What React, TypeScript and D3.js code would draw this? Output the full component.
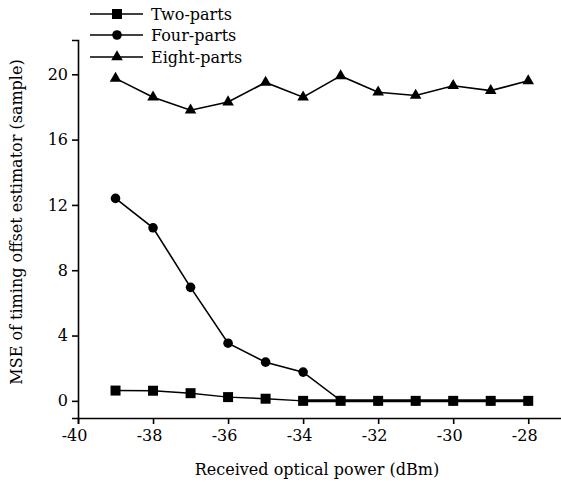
import React, { useRef, useEffect } from 'react';
import * as d3 from 'd3';

// received optical power (dBm)
const powers = [-39, -38, -37, -36, -35, -34, -33, -32, -31, -30, -29, -28];

// MSE per scheme
const twoParts = [0.63, 0.62, 0.47, 0.23, 0.13, 0, 0, 0, 0, 0, 0, 0];
const fourParts = [12.4, 10.6, 6.95, 3.53, 2.37, 1.76, 0.02, 0, 0, 0, 0, 0];
const eightParts = [19.75, 18.6, 17.8, 18.3, 19.5, 18.6, 19.9, 18.9, 18.7, 19.3, 19.0, 19.6];

const xTicks = [-40, -38, -36, -34, -32, -30, -28];
const yTicks = [0, 4, 8, 12, 16, 20];

const seriesNames = ['Two-parts', 'Four-parts', 'Eight-parts'];
const seriesValues = [twoParts, fourParts, eightParts];
const seriesMarks = [d3.symbolSquare, d3.symbolCircle, d3.symbolTriangle];
const markSizes = [100, 72, 58];

export default function App() {
  const svgRef = useRef<SVGSVGElement>(null);

  useEffect(() => {
    const W = 561;
    const H = 485;
    const font = "'DejaVu Serif', serif";
    const fs = 16;

    const svg = d3
      .select(svgRef.current)
      .attr('width', W)
      .attr('height', H)
      .style('font-family', font);
    svg.selectAll('*').remove();

    // шкалы
    const x = d3.scaleLinear().domain([-40, -27.1]).range([78, 562]);
    const y = d3.scaleLinear().domain([-1.05, 22.1]).range([418, 40]);

    // оси
    const gx = svg
      .append('g')
      .attr('transform', `translate(0,${y(-1.05)})`)
      .call(d3.axisBottom(x).tickValues(xTicks).tickSize(6).tickPadding(6).tickFormat(d3.format('d')));
    const gy = svg
      .append('g')
      .attr('transform', `translate(${x(-40)},0)`)
      .call(d3.axisLeft(y).tickValues(yTicks).tickSize(6).tickPadding(4));

    [gx, gy].forEach(g => {
      g.attr('font-family', null).attr('font-size', fs);
      g.select('.domain').attr('stroke', '#000').attr('stroke-width', 1.6);
      g.selectAll('.tick line').attr('stroke', '#000').attr('stroke-width', 1.6);
      g.selectAll('.tick text').attr('fill', '#000');
    });
    gx.selectAll('.tick text')
      .text((d: any) => String(d).replace('−', '-'))
      .attr('dx', -4);

    // подписи осей
    svg
      .append('text')
      .attr('x', 317)
      .attr('y', 475)
      .attr('text-anchor', 'middle')
      .attr('font-size', fs)
      .text('Received optical power (dBm)');

    svg
      .append('text')
      .attr('transform', `translate(22,222) rotate(-90)`)
      .attr('text-anchor', 'middle')
      .attr('font-size', fs)
      .text('MSE of timing offset estimator (sample)');

    // линии и маркеры
    const line = d3
      .line<number>()
      .x((_, i) => x(powers[i]))
      .y(d => y(d));

    seriesValues.forEach((vals, k) => {
      svg
        .append('path')
        .datum(vals)
        .attr('fill', 'none')
        .attr('stroke', '#000')
        .attr('stroke-width', k === 0 ? 1.4 : 1.6)
        .attr('d', line);
    });
    // толстый участок на нуле
    svg
      .append('path')
      .datum(twoParts.slice(5))
      .attr('fill', 'none')
      .attr('stroke', '#000')
      .attr('stroke-width', 3)
      .attr('d', d3.line<number>().x((_, i) => x(powers[i + 5])).y(d => y(d)));

    seriesValues.forEach((vals, k) => {
      const sym = d3.symbol().type(seriesMarks[k]).size(markSizes[k]);
      svg
        .append('g')
        .selectAll('path')
        .data(vals)
        .join('path')
        .attr('transform', (d, i) => `translate(${x(powers[i])},${y(d)})`)
        .attr('d', sym)
        .attr('fill', '#000');
    });

    // легенда
    const legend = svg.append('g');
    const rowsY = [14, 35, 57];
    seriesNames.forEach((name, k) => {
      const g = legend.append('g').attr('transform', `translate(0,${rowsY[k]})`);
      g.append('line')
        .attr('x1', 90)
        .attr('x2', 143)
        .attr('stroke', '#000')
        .attr('stroke-width', 1.6);
      g.append('path')
        .attr('transform', 'translate(117,0)')
        .attr('d', d3.symbol().type(seriesMarks[k]).size(markSizes[k])())
        .attr('fill', '#000');
      g.append('text')
        .attr('x', 151)
        .attr('dy', '0.35em')
        .attr('font-size', fs)
        .text(name);
    });
  }, []);

  return <svg ref={svgRef} style={{ position: 'absolute', left: 0, top: 0 }} />;
}
